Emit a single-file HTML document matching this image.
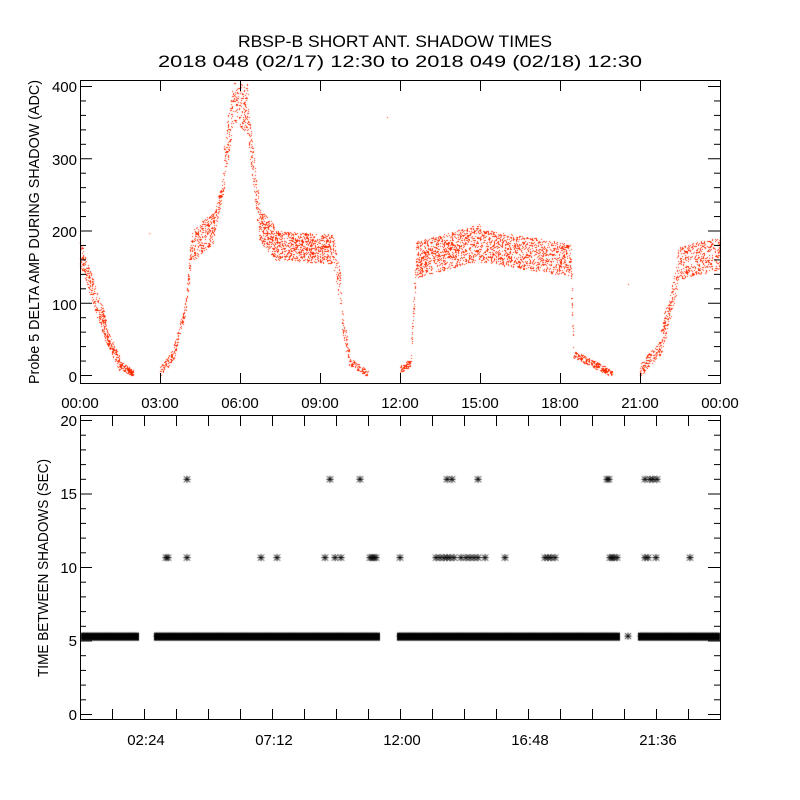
<!DOCTYPE html>
<html><head><meta charset="utf-8"><style>
html,body{margin:0;padding:0;background:#fff;width:800px;height:800px;overflow:hidden}
#c{position:absolute;left:0;top:0}
svg{position:absolute;left:0;top:0}
text{font-family:"Liberation Sans",sans-serif;fill:#000}
</style></head><body>
<canvas id="c" width="800" height="800"></canvas>
<svg width="800" height="800" id="s">
<text x="238" y="47" font-size="17" textLength="314" lengthAdjust="spacingAndGlyphs">RBSP-B SHORT ANT. SHADOW TIMES</text>
<text x="158" y="67" font-size="17" textLength="484" lengthAdjust="spacingAndGlyphs">2018 048 (02/17) 12:30 to 2018 049 (02/18) 12:30</text>
<g font-size="15" text-anchor="end">
<text x="77" y="382">0</text><text x="77" y="310">100</text><text x="77" y="237">200</text><text x="77" y="165">300</text><text x="77" y="92">400</text>
</g>
<g font-size="15" text-anchor="middle">
<text x="80" y="408">00:00</text><text x="160" y="408">03:00</text><text x="240" y="408">06:00</text><text x="320" y="408">09:00</text><text x="400" y="408">12:00</text><text x="480" y="408">15:00</text><text x="560" y="408">18:00</text><text x="640" y="408">21:00</text><text x="720" y="408">00:00</text>
<text x="146" y="745">02:24</text><text x="274" y="745">07:12</text><text x="402" y="745">12:00</text><text x="530" y="745">16:48</text><text x="658" y="745">21:36</text>
</g>
<g font-size="15" text-anchor="end">
<text x="77" y="720">0</text><text x="77" y="646">5</text><text x="77" y="573">10</text><text x="77" y="499">15</text><text x="77" y="426">20</text>
</g>
<text font-size="15" transform="translate(39,384) rotate(-90)" textLength="304" lengthAdjust="spacingAndGlyphs">Probe 5 DELTA AMP DURING SHADOW (ADC)</text>
<text font-size="15" transform="translate(48,677) rotate(-90)" textLength="218" lengthAdjust="spacingAndGlyphs">TIME BETWEEN SHADOWS (SEC)</text>
<g id="ax" stroke="#000" stroke-width="1" fill="none">
<rect x="80.5" y="80.5" width="640" height="303"/>
<rect x="80.5" y="415.5" width="640" height="304"/>
</g>
</svg>
<script>
var ax=document.getElementById('ax'),NS='http://www.w3.org/2000/svg';
function L(x1,y1,x2,y2){var l=document.createElementNS(NS,'line');l.setAttribute('x1',x1);l.setAttribute('y1',y1);l.setAttribute('x2',x2);l.setAttribute('y2',y2);ax.appendChild(l);}
for(var i=0;i<=8;i++){var x=80.5+i*80;L(x,383,x,373);L(x,81,x,91);}
for(var v=0;v<=400;v+=20){var y=375.5-v*0.7225;var len=(v%100==0)?12:6;L(80,y,80+len,y);L(720,y,720-len,y);}
for(var i=0;i<=20;i++){var x=80.5+i*32;L(x,719,x,709);L(x,416,x,426);}
for(var v=0;v<=20;v+=1){var y=714.5-v*14.7;var len=(v%5==0)?12:6;L(80,y,80+len,y);L(720,y,720-len,y);}
var c=document.getElementById('c').getContext('2d');
var seed=7;function r(){seed=(seed*16807)%2147483647;return seed/2147483647;}
var seg=[[0,0.5,170,115,35,150],[0.5,1,115,60,35,150],[1,1.5,55,15,20,150],[1.5,2,15,2,10,120],
[3,3.5,5,30,15,80],[3.5,4,30,100,20,100],[4,4.2,110,185,30,60],[4.2,5,180,205,45,250],[5,5.4,205,270,30,100],[5.4,5.8,290,390,60,120],[5.8,6.3,385,370,70,160],[6.3,6.7,350,225,50,120],
[6.7,7.3,210,185,45,250],[7.3,9.5,180,175,40,800],[9.5,9.8,170,110,45,60],[9.8,10.1,80,25,30,60],[10.1,10.8,20,2,10,100],
[12,12.4,8,18,10,80],[12.4,12.6,30,150,30,40],[12.6,15,160,185,50,900],[15,18.4,180,160,45,1100],[18.4,18.5,160,40,40,30],[18.5,20,30,2,10,250],
[21,21.8,8,40,20,150],[21.8,22.4,50,140,40,150],[22.4,24,155,170,45,450]];
c.fillStyle='#ff2a00';
function X(h){return 80+h*640/24;}function Y(v){return 375.5-v*0.7225;}
seg.forEach(function(s){for(var k=0;k<s[5];k++){var t=r();var h=s[0]+(s[1]-s[0])*t;var v=s[2]+(s[3]-s[2])*t+(r()-0.5)*s[4];if(v>405){continue;}if(v<0)v=r()*3;c.fillRect(Math.round(X(h)),Math.round(Y(v)),1,1);}});
c.fillRect(X(2.6),Y(197),1,1);c.fillRect(387,117,1,1);c.fillRect(628,284,1,1);
c.strokeStyle='#000';c.lineWidth=1;
function star(x,y){c.beginPath();c.moveTo(x-3.5,y);c.lineTo(x+3.5,y);c.moveTo(x,y-3.5);c.lineTo(x,y+3.5);c.moveTo(x-3,y-3);c.lineTo(x+3,y+3);c.moveTo(x-3,y+3);c.lineTo(x+3,y-3);c.stroke();}
function by(v){return 714.5-v*14.7;}
[[84,136],[157,377],[400,617],[641,717]].forEach(function(a){c.fillStyle='#000';c.fillRect(a[0]-3,by(5.33)-3.5,a[1]-a[0]+6,8);for(var x=a[0];x<=a[1];x+=3)star(x,by(5.33));});
star(628,by(5.33));
[187,330,360,447,452,478,607,609,645,650,653,657].forEach(function(x){star(x,by(16));});
[166,168,187,261,277,325,335,341,370,372,374,376,400,436,440,444,447,450,454,461,466,470,474,478,485,505,545,548,551,555,610,612,614,617,645,648,656,690].forEach(function(x){star(x,by(10.67));});
</script>
</body></html>
